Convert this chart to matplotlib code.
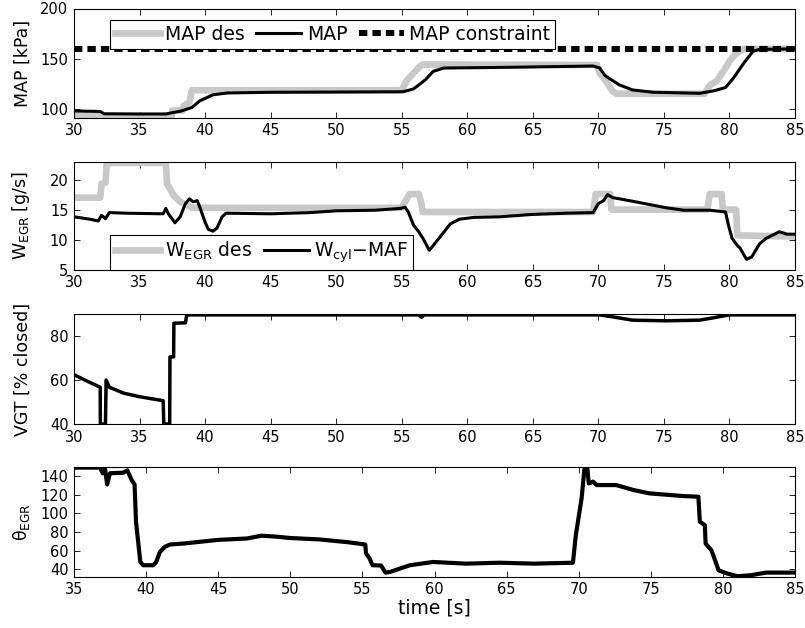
import matplotlib
matplotlib.use("Agg")
import matplotlib.pyplot as plt

plt.rcParams['font.family'] = ['DejaVu Sans']
plt.rcParams['mathtext.fontset'] = 'dejavusans'

# ---------------- data ----------------
# Panel 1: MAP [kPa]
map_des_t = [30, 32.0, 32.2, 37.45, 37.5, 38.3, 38.4, 38.8, 39.0, 55.0, 55.4, 55.9, 56.4, 56.6, 69.9, 70.1, 70.6, 71.1, 71.4, 78.1, 78.5, 79.0, 79.6, 80.0, 80.4, 80.8, 81.2, 85]
map_des_v = [94, 94, 92.5, 92.5, 99, 99, 104, 107, 119, 119, 129, 136, 142.7, 144.5, 144, 136, 127.7, 117.7, 115.5, 115.5, 124, 127.7, 139, 147.7, 154, 158.3, 160, 160]

map_t = [30, 32.0, 32.3, 35, 37.0, 38.2, 39.0, 39.6, 40.6, 41.7, 45, 55.1, 55.9, 56.8, 57.4, 58.2, 63, 69.6, 70.1, 70.5, 70.8, 71.6, 72.6, 74.2, 77.75, 78.8, 79.7, 80.3, 81.1, 81.8, 82.3, 85]
map_v = [98.5, 98, 95.7, 95.5, 95.5, 98.5, 102, 108.5, 114.5, 116.3, 117, 117.5, 120.3, 129.3, 137.7, 141, 141.7, 143, 141, 133.7, 131, 124.3, 119.3, 117, 116, 118.4, 121.7, 131, 146, 157.7, 159.5, 160]

map_con_t = [30, 85]
map_con_v = [160, 160]

# Panel 2: W_EGR [g/s]
wegr_des_t = [30, 32.0, 32.1, 32.4, 32.5, 37.0, 37.1, 37.6, 38.1, 39.0, 55.0, 55.3, 55.6, 56.3, 56.5, 56.6, 69.6, 69.8, 70.9, 71.0, 78.3, 78.5, 79.4, 79.5, 80.5, 80.6, 85]
wegr_des_v = [17, 17, 19.3, 19.5, 22.8, 22.8, 19.3, 17.4, 16.3, 15.3, 15.3, 16.5, 17.6, 17.6, 16, 14.6, 14.6, 17.6, 17.6, 15.0, 15.0, 17.6, 17.6, 15.0, 15.0, 10.7, 10.5]

wcyl_t = [30.0, 31.2, 31.85, 32.1, 32.4, 32.7, 34, 36.8, 37.0, 37.2, 37.7, 38.1, 38.5, 38.8, 39.1, 39.4, 39.6, 40.0, 40.25, 40.6, 40.9, 41.3, 41.6, 45, 48, 50, 53, 54.9, 55.25, 55.5, 55.9, 56.3, 56.7, 57.1, 57.4, 58.2, 58.7, 59.4, 60.5, 62.5, 65.0, 67.6, 69.6, 70.0, 70.4, 70.7, 71.1, 72.6, 75.2, 76.5, 78.5, 79.7, 79.9, 80.2, 80.6, 80.8, 81.3, 81.7, 82.3, 82.8, 83.8, 84.4, 85]
wcyl_v = [13.8, 13.4, 13.1, 14.05, 13.5, 14.5, 14.4, 14.3, 15.2, 14.3, 12.8, 13.8, 16.0, 16.8, 16.3, 16.5, 15.4, 12.9, 11.7, 11.4, 11.9, 13.8, 14.4, 14.3, 14.5, 14.8, 14.9, 15.2, 15.4, 14.6, 12.4, 11.3, 9.9, 8.2, 9.0, 11.2, 12.6, 13.4, 13.7, 13.8, 14.2, 14.4, 14.5, 16.0, 16.5, 17.5, 17.0, 16.4, 15.3, 14.9, 14.9, 14.6, 12.6, 10.2, 9.0, 8.6, 6.7, 7.1, 9.3, 10.2, 11.3, 10.9, 10.9]

# Panel 3: VGT [% closed]
vgt_t = [30.0, 31.0, 32.0, 32.01, 32.4, 32.45, 32.7, 33.8, 35.0, 36.8, 36.85, 37.3, 37.32, 37.6, 37.62, 38.5, 38.6, 56.3, 56.5, 56.7, 70.1, 71.4, 72.6, 75.2, 77.7, 78.8, 79.7, 80.0, 85]
vgt_v = [62.4, 59.5, 56.7, 40, 40, 60, 56.7, 54.0, 52.4, 50.6, 40, 40, 70.5, 70.5, 85.8, 86, 89.6, 89.6, 88.5, 89.6, 89.6, 88.4, 87.2, 86.9, 87.2, 88.3, 89.3, 89.6, 89.6]

# Panel 4: theta_EGR
theta_t = [35.0, 36.8, 37.0, 37.15, 37.3, 37.5, 38.4, 38.7, 39.0, 39.2, 39.3, 39.6, 39.8, 40.5, 40.7, 40.96, 41.3, 41.66, 42.6, 45, 47, 48, 49, 50, 52, 54, 55.2, 55.25, 55.5, 55.7, 56.3, 56.6, 56.9, 57.6, 58.3, 59.9, 62.2, 64.5, 66.9, 69.6, 69.8, 70.2, 70.4, 70.6, 70.7, 71.0, 71.25, 72.6, 73.8, 74.9, 77.25, 78.3, 78.4, 78.75, 78.8, 79.2, 79.5, 79.7, 80.3, 81.0, 81.9, 83.0, 85.0]
theta_v = [149, 149, 142.9, 148, 131, 143, 143.5, 146, 135.7, 131, 91, 47.8, 44.3, 44.3, 47.8, 58.6, 64, 66.5, 67.6, 71.5, 73, 76, 75, 73.5, 72, 69, 66.5, 57, 51.5, 44.3, 44, 36.4, 37, 40.7, 44.3, 47.8, 46, 47, 46, 47, 76.6, 116, 148, 148, 132, 134, 130.3, 130.3, 125, 121.4, 118.5, 117.8, 91, 87.3, 67.6, 60.4, 47.8, 38.9, 35.4, 32.5, 33.5, 36.4, 36.4]

xticks_a = [30, 35, 40, 45, 50, 55, 60, 65, 70, 75, 80, 85]
xticks_b = [35, 40, 45, 50, 55, 60, 65, 70, 75, 80, 85]

GRAY = '#c8c8c8'

fig = plt.figure(figsize=(8.05, 6.28), dpi=100)
L, W = 74/805, 721/805
rects = [
    (L, (628-117.5)/628, W, 109/628),
    (L, (628-269.5)/628, W, 107.8/628),
    (L, (628-424)/628, W, 110/628),
    (L, (628-576.7)/628, W, 110/628),
]
axs = [fig.add_axes(r) for r in rects]

for ax in axs:
    ax.tick_params(direction='in', top=True, right=True, length=4, width=0.6,
                   labelsize=10.5, pad=4)
    for s in ax.spines.values():
        s.set_linewidth(0.8)

# Panel 1
ax = axs[0]
h1, = ax.plot(map_des_t, map_des_v, color=GRAY, lw=4.8)
h2, = ax.plot(map_t, map_v, color='black', lw=2.2)
h3, = ax.plot(map_con_t, map_con_v, color='black', lw=4.3, dashes=(1.4, 0.85), dash_capstyle='butt')
ax.set_xlim(30, 85)
ax.set_ylim(92, 200)
ax.set_xticks(xticks_a)
ax.set_yticks([100, 150, 200])
ax.set_ylabel('MAP [kPa]', fontsize=12.5)
leg = ax.legend([h1, h2, h3], ['MAP des', 'MAP', 'MAP constraint'], ncol=3,
                loc='upper left', bbox_to_anchor=(0.05, 0.892), fontsize=13.5,
                frameon=True, fancybox=False, edgecolor='black', framealpha=1,
                handlelength=2.4, handletextpad=0.3, columnspacing=0.6,
                borderpad=0.25, borderaxespad=0)
leg.get_frame().set_linewidth(0.8)

# Panel 2
ax = axs[1]
g1, = ax.plot(wegr_des_t, wegr_des_v, color=GRAY, lw=4.8)
g2, = ax.plot(wcyl_t, wcyl_v, color='black', lw=2.2)
ax.set_xlim(30, 85)
ax.set_ylim(5, 23)
ax.set_xticks(xticks_a)
ax.set_yticks([5, 10, 15, 20])
ax.set_ylabel(r'W$_{\rm EGR}$ [g/s]', fontsize=12.5)
leg2 = ax.legend([g1, g2], [r'W$_{\rm EGR}$ des', r'W$_{\rm cyl}$$-$MAF'], ncol=2,
                 loc='lower left', bbox_to_anchor=(0.05, 0.0), fontsize=13.5,
                 frameon=True, fancybox=False, edgecolor='black', framealpha=1,
                 handlelength=2.4, handletextpad=0.3, columnspacing=0.6,
                 borderpad=0.25, borderaxespad=0)
leg2.get_frame().set_linewidth(0.8)

# Panel 3
ax = axs[2]
ax.plot(vgt_t, vgt_v, color='black', lw=2.5)
ax.set_xlim(30, 85)
ax.set_ylim(40, 90)
ax.set_xticks(xticks_a)
ax.set_yticks([40, 60, 80])
ax.set_ylabel('VGT [% closed]', fontsize=12.5)

# Panel 4
ax = axs[3]
ax.plot(theta_t, theta_v, color='black', lw=3)
ax.set_xlim(35, 85)
ax.set_ylim(32, 150)
ax.set_xticks(xticks_b)
ax.set_yticks([40, 60, 80, 100, 120, 140])
ax.set_ylabel('θ$_{\\rm EGR}$', fontsize=12.5)
ax.set_xlabel('time [s]', fontsize=13.5, labelpad=1)

for ax in axs:
    ax.yaxis.set_label_coords(-0.058, 0.5)

fig.savefig('out.png', dpi=100)
